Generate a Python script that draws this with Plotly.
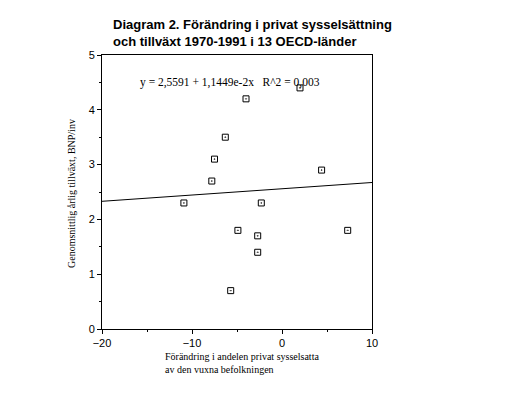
import plotly.graph_objects as go

# Data
change_private_employment = [-10.9, -7.8, -7.5, -6.3, -4.0, 2.0, 4.4, -4.9, -2.7, -2.7, -2.3, -5.7, 7.3]
gdp_growth = [2.3, 2.7, 3.1, 3.5, 4.2, 4.4, 2.9, 1.8, 1.7, 1.4, 2.3, 0.7, 1.8]
intercept = 2.5591
slope = 1.1449e-2
line_x = [-20, 10]
line_y = [intercept + slope * v for v in line_x]

title_text = "<b>Diagram 2. Förändring i privat sysselsättning<br>och tillväxt 1970-1991 i 13 OECD-länder</b>"
equation_text = "y = 2,5591 + 1,1449e-2x   R^2 = 0,003"
x_title = "Förändring i andelen privat sysselsatta<br>av den vuxna befolkningen"
y_title = "Genomsnittlig årlig tillväxt, BNP/inv"

# page offset of the figure (body margin)
OFF = 8
W, H = 502, 388
L, R, T, B = 94, 138, 47, 67
pw = W - L - R
ph = H - T - B


def px(xpage):
    return (xpage - OFF - L) / pw


def py(ypage):
    return (H - B - (ypage - OFF)) / ph


fig = go.Figure()
fig.add_trace(go.Scatter(x=line_x, y=line_y, mode="lines",
                         line=dict(color="black", width=1), showlegend=False))
fig.add_trace(go.Scatter(x=change_private_employment, y=gdp_growth, mode="markers",
                         marker=dict(symbol="square-open-dot", size=6, color="black",
                                     line=dict(color="black", width=1)),
                         showlegend=False))

serif = "Liberation Serif, Times New Roman, serif"
sans = "Liberation Sans, Arial, sans-serif"

fig.update_layout(
    width=W, height=H,
    margin=dict(l=L, r=R, t=T, b=B),
    paper_bgcolor="white", plot_bgcolor="white",
    font=dict(family=sans, color="black", size=11),
    xaxis=dict(range=[-20, 10], dtick=10, tick0=-20, showgrid=False, zeroline=False,
               showline=True, mirror=True, linecolor="black", linewidth=1,
               ticks="outside", ticklen=4, tickcolor="black",
               minor=dict(dtick=5, ticks="outside", ticklen=2, tickcolor="black"),
               tickfont=dict(family=sans, size=11)),
    yaxis=dict(range=[0, 5], dtick=1, showgrid=False, zeroline=False,
               showline=True, mirror=True, linecolor="black", linewidth=1,
               ticks="outside", ticklen=4, tickcolor="black",
               minor=dict(dtick=0.5, ticks="outside", ticklen=2, tickcolor="black"),
               tickfont=dict(family=sans, size=11)),
    annotations=[
        dict(text=title_text, x=px(111), y=py(15), xref="paper", yref="paper",
             showarrow=False, xanchor="left", yanchor="top", align="left",
             font=dict(family=sans, size=13, color="black")),
        dict(text=equation_text, x=px(138), y=py(82), xref="paper", yref="paper",
             showarrow=False, xanchor="left", yanchor="middle",
             font=dict(family=serif, size=11.5, color="black")),
        dict(text=x_title, x=px(163), y=py(349), xref="paper", yref="paper", showarrow=False,
             xanchor="left", yanchor="top", align="left",
             font=dict(family=serif, size=10, color="black")),
        dict(text=y_title, textangle=-90, x=px(71), y=py(194), xref="paper", yref="paper",
             showarrow=False, xanchor="center", yanchor="middle",
             font=dict(family=serif, size=10, color="black")),
    ],
)

fig.write_html("out.html")
